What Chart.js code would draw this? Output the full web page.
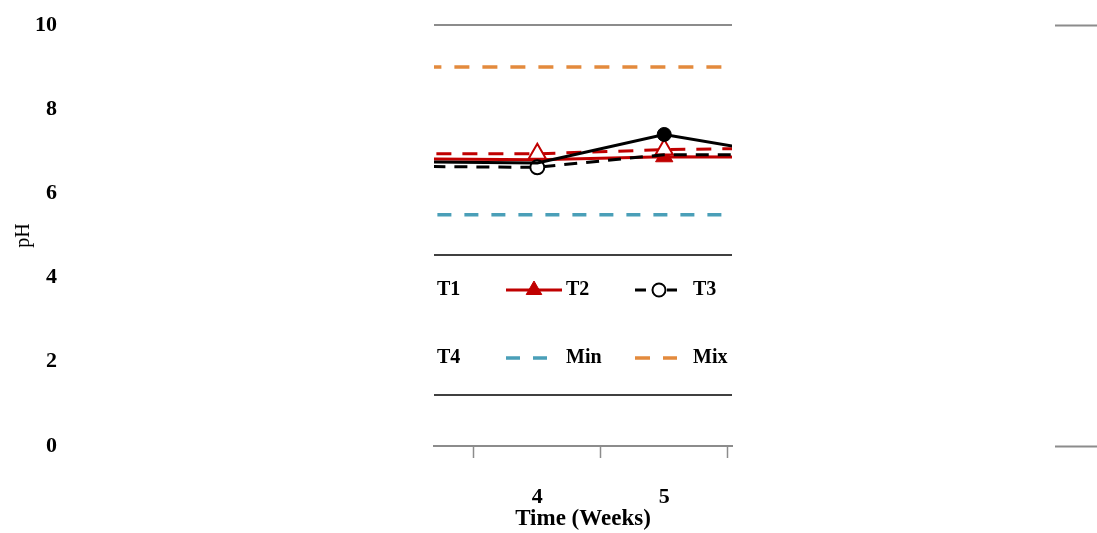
<!DOCTYPE html>
<html>
<head>
<meta charset="utf-8">
<title>pH over time</title>
<script src="https://cdn.jsdelivr.net/npm/chart.js@4.4.1/dist/chart.umd.min.js"></script>
<style>
  html, body { margin: 0; padding: 0; background: #fff; }
  #chart-container { position: relative; width: 1097px; height: 533px; }
</style>
</head>
<body>
<div id="chart-container"><canvas id="graphCanvas"></canvas></div>
<script>
// weeks (3 and 6 are only partly in view)
var weeks = [3, 4, 5, 6];
var shownWeeks = [4, 5];
var yTicks = [0, 2, 4, 6, 8, 10];

var t1 = [6.75, 6.72, 7.40, 6.89];
var t2 = [6.82, 6.80, 6.87, 6.86];
var t3 = [6.64, 6.62, 6.92, 6.92];
var t4 = [6.94, 6.94, 7.04, 7.08];
var minPH = [5.49, 5.49, 5.49, 5.49];
var mixPH = [9.0, 9.0, 9.0, 9.0];

var GRAY = '#8c8c8c';
var RED = '#c00000';
var BLUE = '#4a9fb8';
var ORANGE = '#e38a3d';

Chart.defaults.font.family = '"Liberation Serif", "Times New Roman", serif';
Chart.defaults.color = '#000';

function pts(vals) {
  return weeks.map(function (w, i) { return { x: w, y: vals[i] }; });
}

// legend drawn as a boxed 3x2 table inside the plot
var boxLegend = {
  id: 'boxLegend',
  afterDraw: function (chart) {
    var ctx = chart.ctx, area = chart.chartArea;
    var rows = [290, 358];
    var colSym = [437, 506, 635];
    var colText = [437, 566, 693];
    ctx.save();
    ctx.strokeStyle = '#000';
    ctx.lineWidth = 1.5;
    [255, 395].forEach(function (y) {
      ctx.beginPath(); ctx.moveTo(area.left, y); ctx.lineTo(area.right, y); ctx.stroke();
    });
    ctx.font = 'bold 20px "Liberation Serif"';
    ctx.textBaseline = 'middle';
    chart.data.datasets.forEach(function (ds, i) {
      var col = i % 3, y = rows[Math.floor(i / 3)];
      if (ds.legendSymbol !== false) {
        var x0 = colSym[col], x1 = x0 + (ds.legendWidth || 42);
        ctx.save();
        ctx.strokeStyle = ds.borderColor;
        ctx.lineWidth = ds.borderWidth;
        ctx.setLineDash(ds.legendDash || ds.borderDash || []);
        ctx.beginPath(); ctx.moveTo(x0, y); ctx.lineTo(x1, y); ctx.stroke();
        ctx.setLineDash([]);
        if (ds.legendMarker) {
          ctx.fillStyle = ds.pointBackgroundColor;
          ctx.strokeStyle = ds.pointBorderColor;
          ctx.lineWidth = ds.pointBorderWidth;
          Chart.helpers.drawPoint(ctx, { pointStyle: ds.pointStyle, rotation: 0, radius: ds.legendMarker, borderWidth: ds.pointBorderWidth }, (x0 + x1) / 2 + (ds.legendMarkerShift || 0), y);
        }
        ctx.restore();
      }
      ctx.fillStyle = '#000';
      ctx.fillText(ds.label, colText[col], y);
    });
    ctx.restore();
  }
};

var graphTarget = document.getElementById('graphCanvas');
var phChart = new Chart(graphTarget, {
  type: 'line',
  data: {
    datasets: [
      { label: 'T1', data: pts(t1), borderColor: '#000', borderWidth: 3,
        pointStyle: 'circle', pointRadius: [0, 0, 7, 0], pointBackgroundColor: '#000',
        pointBorderColor: '#000', pointBorderWidth: 1, order: 1, legendSymbol: false },
      { label: 'T2', data: pts(t2), borderColor: RED, borderWidth: 3,
        pointStyle: 'triangle', pointRadius: [0, 0, 10, 0], pointBackgroundColor: RED,
        pointBorderColor: RED, pointBorderWidth: 1, order: 4, legendWidth: 56, legendMarker: 9 },
      { label: 'T3', data: pts(t3), borderColor: '#000', borderWidth: 3, borderDash: [13, 9],
        pointStyle: 'circle', pointRadius: [0, 7, 0, 0], pointBackgroundColor: '#fff',
        pointBorderColor: '#000', pointBorderWidth: 2, order: 2,
        legendDash: [11, 21], legendMarker: 6.5, legendMarkerShift: 3 },
      { label: 'T4', data: pts(t4), borderColor: RED, borderWidth: 3, borderDash: [15, 11],
        pointStyle: 'triangle', pointRadius: [0, 10, 10, 0], pointBackgroundColor: '#fff',
        pointBorderColor: RED, pointBorderWidth: 2, order: 3, legendSymbol: false },
      { label: 'Min', data: pts(minPH), borderColor: BLUE, borderWidth: 3.5, borderDash: [14, 13],
        pointRadius: 0, order: 5 },
      { label: 'Mix', data: pts(mixPH), borderColor: ORANGE, borderWidth: 3.5, borderDash: [15, 13],
        borderDashOffset: 12, pointRadius: 0, order: 6 }
    ]
  },
  options: {
    responsive: true,
    maintainAspectRatio: false,
    animation: false,
    layout: { padding: { top: 25, bottom: 0, left: 0, right: 0 } },
    elements: { line: { tension: 0 } },
    plugins: { legend: { display: false }, tooltip: { enabled: false } },
    scales: {
      x: {
        type: 'linear',
        min: 3.186,
        max: 5.534,
        afterBuildTicks: function (s) { s.ticks = shownWeeks.map(function (v) { return { value: v }; }); },
        afterFit: function (s) { s.height = 87; s.paddingLeft = 0; s.paddingRight = 0; },
        ticks: { font: { size: 22, weight: 'bold' }, padding: 26, color: '#000',
                 callback: function (v) { return String(v); } },
        grid: { offset: true, drawOnChartArea: false, drawTicks: true, tickLength: 12,
                tickColor: GRAY, tickWidth: 1.5 },
        border: { display: true, color: GRAY, width: 2 },
        title: { display: true, text: 'Time (Weeks)', font: { size: 23, weight: 'bold' },
                 color: '#000', padding: { top: 0, bottom: 0 } }
      },
      y: {
        min: 0,
        max: 10,
        afterBuildTicks: function (s) { s.ticks = yTicks.map(function (v) { return { value: v }; }); },
        afterFit: function (s) { s.width = 434; s.paddingTop = 0; s.paddingBottom = 0; },
        ticks: { font: { size: 22, weight: 'bold' }, padding: 377, color: '#000' },
        grid: { drawTicks: false, lineWidth: 2,
                color: function (c) { return c.tick && (c.tick.value === 10 || c.tick.value === 0) ? GRAY : 'rgba(0,0,0,0)'; } },
        border: { display: false },
        title: { display: true, text: 'pH', font: { size: 20 }, color: '#000', padding: { top: 12, bottom: 0 } }
      },
      y2: {
        position: 'right',
        min: 0,
        max: 10,
        afterBuildTicks: function (s) { s.ticks = yTicks.map(function (v) { return { value: v }; }); },
        afterFit: function (s) { s.width = 365; s.paddingTop = 0; s.paddingBottom = 0; },
        ticks: { display: false },
        grid: { drawOnChartArea: false, drawTicks: true, tickLength: 365, tickWidth: 2,
                tickBorderDash: [0, 323, 42, 100],
                tickColor: function (c) { return c.tick && (c.tick.value === 10 || c.tick.value === 0) ? GRAY : 'rgba(0,0,0,0)'; } },
        border: { display: false }
      }
    }
  },
  plugins: [boxLegend]
});
</script>
</body>
</html>
